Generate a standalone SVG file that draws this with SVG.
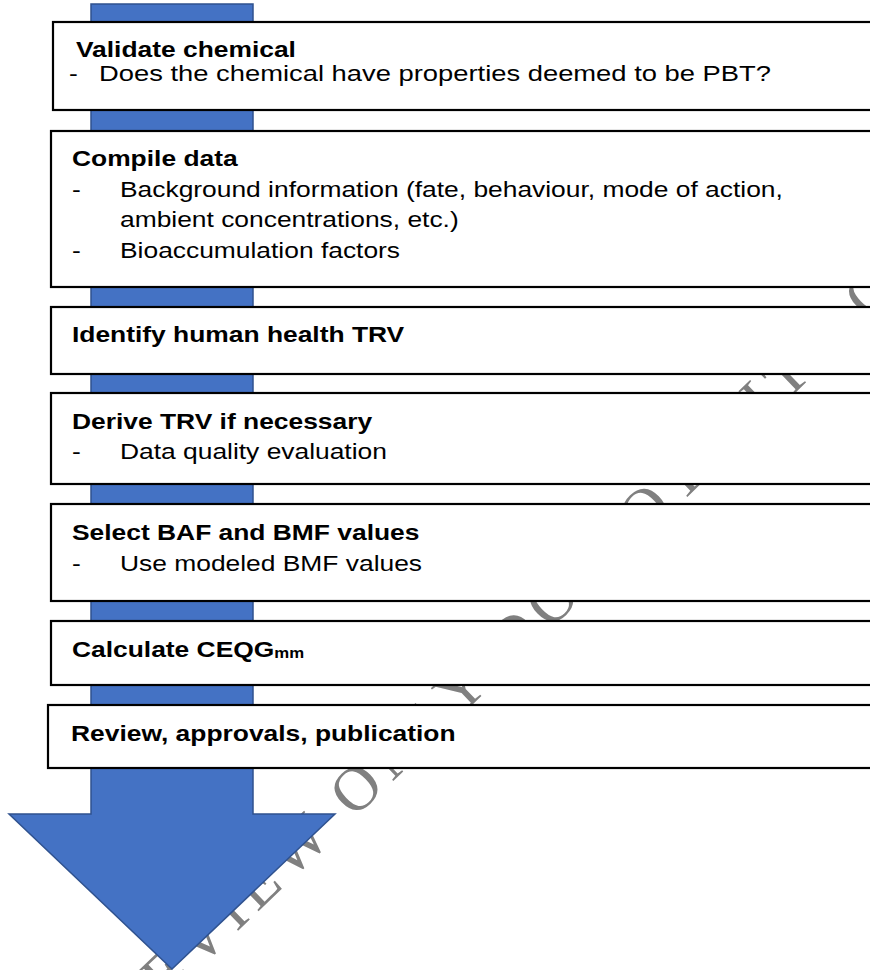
<svg xmlns="http://www.w3.org/2000/svg" width="870" height="970" viewBox="0 0 870 970">
  <style>
    .box { fill: #ffffff; stroke: #000000; stroke-width: 2.2; }
    .txt { font-family: "Liberation Sans", Arial, sans-serif; font-size: 22px; fill: #000000; }
    .b { font-weight: bold; }
    .wm { font-family: "Liberation Serif", "Times New Roman", serif; font-size: 62px; fill: #808080; letter-spacing: 8px; }
  </style>

  <rect x="0" y="0" width="870" height="970" fill="#ffffff"/>

  <!-- diagonal watermark, sits behind everything -->
  <g id="watermark" transform="rotate(-44)">
    <text class="wm" x="-668" y="835">PREVIEW ONLY DO NOT CITE OR QUOTE</text>
  </g>

  <!-- block arrow running down behind the steps -->
  <g id="connectors">
    <polygon points="91,4 253,4 253,814 335,814 172,969 9,814 91,814" fill="#4472C4" stroke="#2F528F" stroke-width="1.5"/>
  </g>

  <g id="step-validate">
    <rect class="box" x="53" y="22" width="880" height="88"/>
    <g transform="scale(1.2 1)">
      <text class="txt b" x="63.3" y="57">Validate chemical</text>
      <text class="txt" x="57.5" y="81">-</text>
      <text class="txt" x="82.5" y="81" textLength="560" lengthAdjust="spacingAndGlyphs">Does the chemical have properties deemed to be PBT?</text>
    </g>
  </g>

  <g id="step-compile">
    <rect class="box" x="51" y="131" width="880" height="156"/>
    <g transform="scale(1.2 1)">
      <text class="txt b" x="60" y="166">Compile data</text>
      <text class="txt" x="60" y="197">-</text>
      <text class="txt" x="100" y="197">Background information (fate, behaviour, mode of action,</text>
      <text class="txt" x="100" y="227">ambient concentrations, etc.)</text>
      <text class="txt" x="60" y="258">-</text>
      <text class="txt" x="100" y="258">Bioaccumulation factors</text>
    </g>
  </g>

  <g id="step-identify">
    <rect class="box" x="51" y="307" width="880" height="67"/>
    <g transform="scale(1.2 1)">
      <text class="txt b" x="60" y="342">Identify human health TRV</text>
    </g>
  </g>

  <g id="step-derive">
    <rect class="box" x="51" y="393" width="880" height="91"/>
    <g transform="scale(1.2 1)">
      <text class="txt b" x="60" y="429">Derive TRV if necessary</text>
      <text class="txt" x="60" y="459">-</text>
      <text class="txt" x="100" y="459">Data quality evaluation</text>
    </g>
  </g>

  <g id="step-select">
    <rect class="box" x="51" y="504" width="880" height="97"/>
    <g transform="scale(1.2 1)">
      <text class="txt b" x="60" y="540">Select BAF and BMF values</text>
      <text class="txt" x="60" y="571">-</text>
      <text class="txt" x="100" y="571">Use modeled BMF values</text>
    </g>
  </g>

  <g id="step-calculate">
    <rect class="box" x="51" y="621" width="880" height="64"/>
    <g transform="scale(1.2 1)">
      <text class="txt b" x="60" y="657">Calculate CEQG<tspan font-size="14" dy="1">mm</tspan></text>
    </g>
  </g>

  <g id="step-review">
    <rect class="box" x="48" y="705" width="880" height="63"/>
    <g transform="scale(1.2 1)">
      <text class="txt b" x="59.2" y="741">Review, approvals, publication</text>
    </g>
  </g>
</svg>
